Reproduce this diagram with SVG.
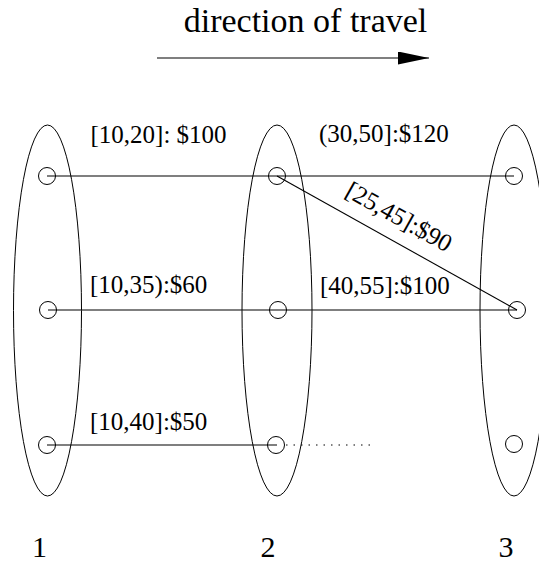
<svg xmlns="http://www.w3.org/2000/svg" width="539" height="565" viewBox="0 0 539 565">
<defs>
<style>
text{font-family:'Liberation Serif','Times New Roman','DejaVu Serif',serif;fill:#000}
.lbl{font-size:25px}
.big{font-size:34px}
.num{font-size:30px}
.ell{fill:none;stroke:#000;stroke-width:1}
.nd{fill:none;stroke:#000;stroke-width:1}
.ln{stroke:#000;stroke-width:1.1;fill:none}
</style>
<marker id="ah" markerWidth="32" markerHeight="14" refX="31" refY="6.5" orient="auto" markerUnits="userSpaceOnUse">
<path d="M0,0 L31,6.5 L0,13 Z" fill="#000"/>
</marker>
</defs>
<rect width="539" height="565" fill="#fff"/>
<text class="big" x="305.5" y="32" text-anchor="middle">direction of travel</text>
<line x1="157" y1="58" x2="429" y2="58" stroke="#000" stroke-width="1.2" marker-end="url(#ah)"/>
<g id="stage1"><ellipse class="ell" cx="47.5" cy="310.5" rx="34" ry="185.5"/></g>
<g id="stage2"><ellipse class="ell" cx="277" cy="310.5" rx="35" ry="185.5"/></g>
<g id="stage3"><ellipse class="ell" cx="514" cy="310.5" rx="34" ry="185.5"/></g>
<g id="connectors">
<line class="ln" x1="47" y1="176" x2="514" y2="176"/>
<line class="ln" x1="48" y1="310" x2="517" y2="310"/>
<line class="ln" x1="47" y1="445" x2="277" y2="445"/>
<line class="ln" x1="277" y1="176" x2="517" y2="310"/>
<line x1="286" y1="445" x2="376" y2="445" stroke="#000" stroke-width="1" stroke-dasharray="1.5 6"/>
</g>
<g id="n1a"><circle class="nd" cx="47" cy="176" r="8.5"/></g>
<g id="n1b"><circle class="nd" cx="48" cy="310" r="8.5"/></g>
<g id="n1c"><circle class="nd" cx="47" cy="445" r="8.5"/></g>
<g id="n2a"><circle class="nd" cx="277" cy="176" r="8.5"/></g>
<g id="n2b"><circle class="nd" cx="278" cy="310" r="8.5"/></g>
<g id="n2c"><circle class="nd" cx="276" cy="445" r="8.5"/></g>
<g id="n3a"><circle class="nd" cx="514" cy="176" r="8.5"/></g>
<g id="n3b"><circle class="nd" cx="517" cy="310" r="8.5"/></g>
<g id="n3c"><circle class="nd" cx="514" cy="444" r="8.5"/></g>
<g id="labels">
<text class="lbl" x="90.5" y="143">[10,20]: $100</text>
<text class="lbl" x="319" y="142">(30,50]:$120</text>
<text class="lbl" x="90" y="293">[10,35):$60</text>
<text class="lbl" x="320" y="294">[40,55]:$100</text>
<text class="lbl" x="90" y="430">[10,40]:$50</text>
<text class="lbl" text-anchor="middle" transform="translate(395,224) rotate(29.2)">[25,45]:$90</text>
</g>
<text class="num" x="39.5" y="557" text-anchor="middle">1</text>
<text class="num" x="268" y="557" text-anchor="middle">2</text>
<text class="num" x="506" y="557" text-anchor="middle">3</text>
</svg>
